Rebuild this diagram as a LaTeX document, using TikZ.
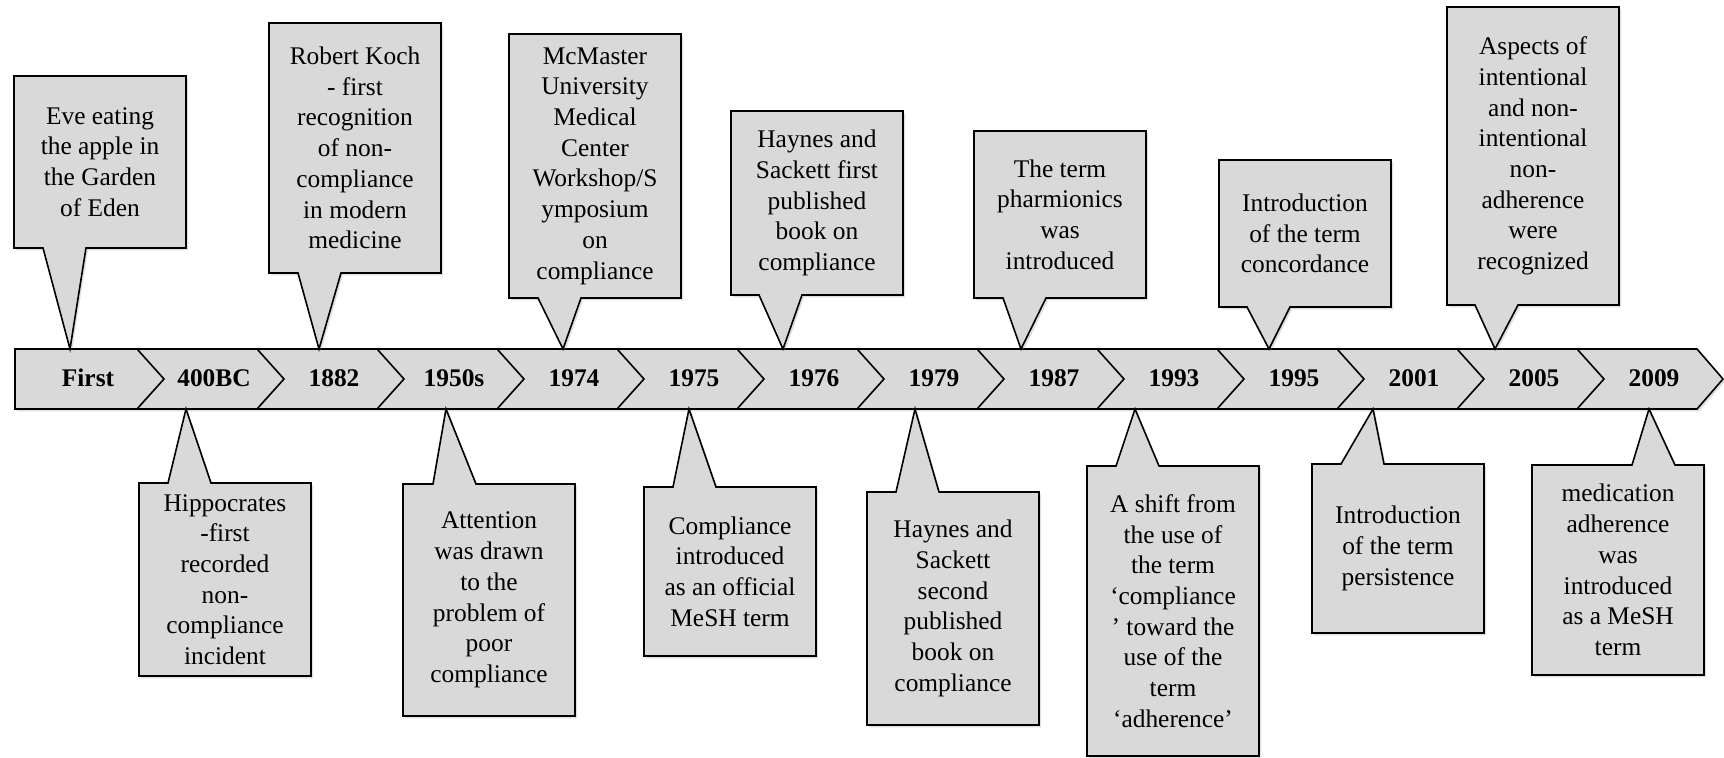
\documentclass[tikz,border=0pt]{standalone}
\usepackage{fontspec}
\setmainfont{Liberation Serif}
\usetikzlibrary{shadows}

\definecolor{notegray}{RGB}{217,217,217}

\tikzset{
  callout/.style={draw=black, fill=notegray, line width=0.8pt, line join=miter,
    drop shadow={shadow xshift=1pt, shadow yshift=-1.2pt, opacity=0.25}},
  notetext/.style={align=center, inner sep=0pt, font=\fontsize{12.7}{15.35}\selectfont},
  yeartext/.style={anchor=base, inner sep=0pt, font=\fontsize{12.7}{15}\selectfont\bfseries},
}

% callout above the band: name, left, top, bottom, pointer offset, tip x, text
\newcommand{\noteup}[7]{%
  \filldraw[callout] (#2,#3) -- ({#2+172},#3) -- ({#2+172},#4) -- ({#2+#5+43},#4)
    -- (#6,349) -- ({#2+#5},#4) -- (#2,#4) -- cycle;
  \node[notetext] (#1) at ({#2+86},{(#3+#4)/2}) {#7};}
% callout below the band
\newcommand{\notedown}[7]{%
  \filldraw[callout] (#2,#3) -- ({#2+#5},#3) -- (#6,409) -- ({#2+#5+43},#3)
    -- ({#2+172},#3) -- ({#2+172},#4) -- (#2,#4) -- cycle;
  \node[notetext] (#1) at ({#2+86},{(#3+#4)/2}) {#7};}

\begin{document}
\begin{tikzpicture}[x=0.5pt,y=-0.5pt]
  \useasboundingbox (0,0) rectangle (1724,758);

  % the band of years
  \filldraw[callout] (15,349) -- (1697,349) -- (1723,379) -- (1697,409) -- (15,409) -- cycle;
  \foreach \k in {0,...,12}
    \draw[line width=0.8pt] ({137+120*\k},349) -- ({164+120*\k},379) -- ({137+120*\k},409);
  \foreach \yr [count=\i from 0] in {First,400BC,1882,1950s,1974,1975,1976,1979,1987,1993,1995,2001,2005,2009}
    \node[yeartext] (yr\i) at ({94+120*\i-6*(\i==0)},387) {\yr};

  % above
  \noteup{eve}{14}{76}{248}{29}{70}{Eve eating\\the apple in\\the Garden\\of Eden}
  \noteup{koch}{269}{23}{273}{29}{319}{Robert Koch\\- first\\recognition\\of non-\\compliance\\in modern\\medicine}
  \noteup{mcmaster}{509}{34}{298}{29}{563}{McMaster\\University\\Medical\\Center\\Workshop/S\\ymposium\\on\\compliance}
  \noteup{haynesA}{731}{111}{295}{28}{783}{Haynes and\\Sackett first\\published\\book on\\compliance}
  \noteup{pharm}{974}{131}{298}{29}{1021}{The term\\pharmionics\\was\\introduced}
  \noteup{concord}{1219}{160}{307}{28}{1269}{Introduction\\of the term\\concordance}
  \noteup{aspects}{1447}{7}{305}{28}{1495}{Aspects of\\intentional\\and non-\\intentional\\non-\\adherence\\were\\recognized}

  % below
  \notedown{hippo}{139}{483}{676}{29}{186}{Hippocrates\\-first\\recorded\\non-\\compliance\\incident}
  \notedown{attention}{403}{484}{716}{30}{446}{Attention\\was drawn\\to the\\problem of\\poor\\compliance}
  \notedown{mesh}{644}{487}{656}{29}{689}{Compliance\\introduced\\as an official\\MeSH term}
  \notedown{haynesB}{867}{492}{725}{29}{915}{Haynes and\\Sackett\\second\\published\\book on\\compliance}
  \notedown{shift}{1087}{466}{756}{29}{1135}{A shift from\\the use of\\the term\\‘compliance\\’ toward the\\use of the\\term\\‘adherence’}
  \notedown{persist}{1312}{464}{633}{29}{1373}{Introduction\\of the term\\persistence}
  \notedown{adherence}{1532}{465}{675}{100}{1649}{medication\\adherence\\was\\introduced\\as a MeSH\\term}
\end{tikzpicture}
\end{document}
